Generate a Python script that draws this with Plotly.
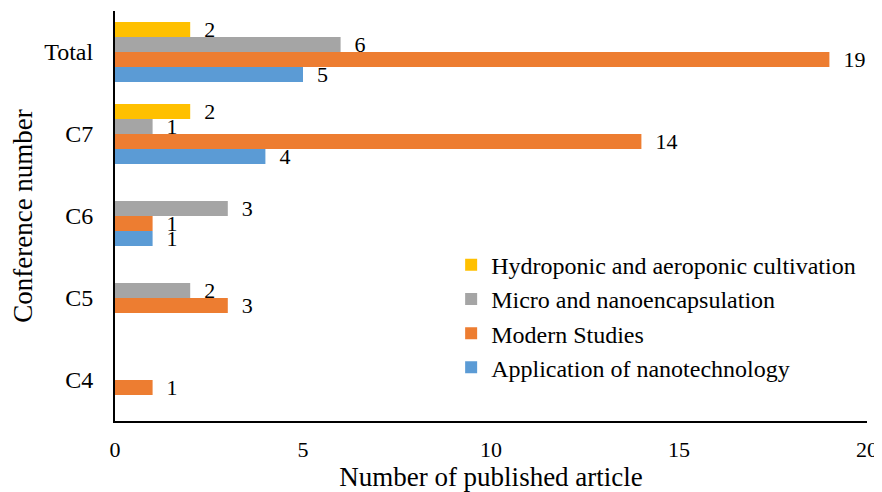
import plotly.graph_objects as go

categories = ["C4", "C5", "C6", "C7", "Total"]
application = [0, 0, 1, 4, 5]
modern = [1, 3, 1, 14, 19]
micro = [0, 2, 3, 1, 6]
hydroponic = [0, 0, 0, 2, 2]

series = [
    ("Application of nanotechnology", application, "#5B9BD5"),
    ("Modern Studies", modern, "#ED7D31"),
    ("Micro and nanoencapsulation", micro, "#A5A5A5"),
    ("Hydroponic and aeroponic cultivation", hydroponic, "#FFC000"),
]

FONT = "Liberation Serif, Times New Roman, serif"

fig = go.Figure()
for name, vals, color in series:
    fig.add_trace(go.Bar(
        name=name, y=categories, x=vals, orientation="h",
        marker=dict(color=color, line=dict(width=0)),
        text=["\u00a0\u00a0" + str(v) if v else "" for v in vals],
        textposition="outside",
        constraintext="none",
        textfont=dict(family=FONT, size=22, color="black"),
        cliponaxis=False,
    ))

# page body has an 8px margin, so the figure is 8px smaller than the window
fig.update_layout(
    barmode="group",
    bargap=0.27,
    bargroupgap=0,
    width=874, height=484,
    margin=dict(l=107, r=15, t=3, b=71),
    paper_bgcolor="white", plot_bgcolor="white",
    font=dict(family=FONT, size=22, color="black"),
    legend=dict(
        traceorder="reversed",
        x=0.447, y=0.435, xanchor="left", yanchor="top",
        font=dict(family=FONT, size=24, color="black"),
        bgcolor="rgba(0,0,0,0)",
        tracegroupgap=0,
    ),
    xaxis=dict(
        range=[0, 20], tickvals=[0, 5, 10, 15, 20],
        showgrid=False, zeroline=False, automargin=False,
        showline=True, linecolor="black", linewidth=2,
        ticks="", ticklabelstandoff=8,
        tickfont=dict(family=FONT, size=22, color="black"),
        title=dict(text="Number of published article", standoff=13,
                   font=dict(family=FONT, size=27, color="black")),
    ),
    yaxis=dict(
        showgrid=False, zeroline=False, automargin=False,
        showline=True, linecolor="black", linewidth=2,
        ticks="", ticklabelstandoff=15,
        tickfont=dict(family=FONT, size=24, color="black"),
        title=dict(text="Conference number", standoff=5,
                   font=dict(family=FONT, size=27, color="black")),
    ),
)

fig.write_html("out.html")
